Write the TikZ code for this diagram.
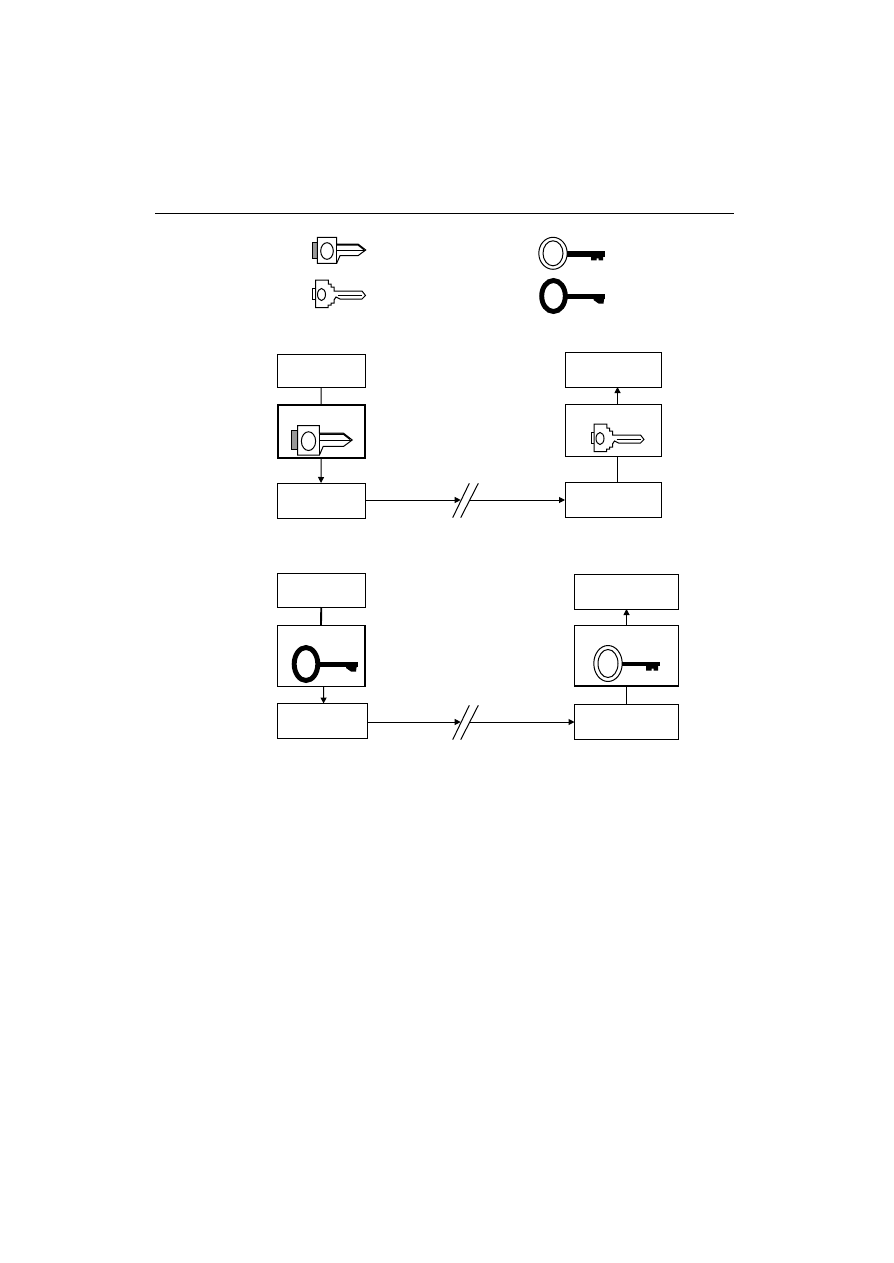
\documentclass[tikz,border=0pt]{standalone}
\usetikzlibrary{arrows.meta}
\newcommand{\pxbox}[6][]{% name x1 y1 x2 y2
  \node[flowbox,#1,minimum width={(#5-#3)*0.75pt},minimum height={(#6-#4)*0.75pt}] (#2) at ({(#3+#5)/2},{(#4+#6)/2}) {};}
\tikzset{
  x=0.75pt,y=-0.75pt,
  flowbox/.style={draw=black,fill=white,line width=0.75pt,inner sep=0pt,outer sep=0pt,rectangle},
  heavybox/.style={line width=1.5pt},
  conn/.style={draw=black,line width=0.75pt},
  heavyconn/.style={draw=black,line width=1.4pt},
  arr/.style={conn,-{Triangle[length=4.5pt,width=4.5pt]}},
  slash/.style={draw=black,line width=0.75pt},
  keyline/.style={draw=black,line width=0.75pt,line join=miter},
  pics/flatkey/.style={code={
    \draw[keyline,fill=black!40] (-15,-8) rectangle (-9.7,8);
    \draw[keyline,fill=white] (9.7,-6) -- (31,-6) -- (38.7,0) -- (31,5.7) -- (13,5.7) -- (9.7,13.3) -- (-9.7,13.3) -- (-9.7,-12.7) -- (9.7,-12.7) -- cycle;
    \draw[keyline] (9.7,-12.7) -- (9.7,13.3);
    \draw[keyline] (9.7,0) -- (38,0);
    \draw[keyline,line width=1.1pt] (9.7,-5.2) -- (31,-5.2) -- (37,-0.5);
    \draw[keyline] (0,1) ellipse [x radius=6.3,y radius=8.3];
  }},
  pics/stepkey/.style={code={
    \draw[keyline,fill=white] (-9.3,-5.5) -- (-12.5,-5.5) -- (-12.5,5) -- (-9.3,5);
    \draw[keyline,fill=white] (-9.3,-14) -- (3.3,-14) -- (3.3,-10) -- (6,-10) -- (6,-7) -- (9,-7) -- (9,-3) -- (11,-3) -- (37,-3) -- (40.5,1.5) -- (37,5) -- (15,5) -- (11,3) -- (9,6) -- (9,9) -- (6,9) -- (6,11) -- (3,11) -- (3,13.7) -- (-9.3,13.7) -- cycle;
    \draw[keyline] (13,1) -- (37,1);
    \draw[keyline] (-3.5,0.5) ellipse [x radius=4,y radius=6];
  }},
  pics/ringkey/.style n args={3}{code={
    \draw[keyline] (0,0) ellipse [x radius=14.2,y radius=#1];
    \draw[keyline] (0,0) ellipse [x radius=10,y radius=#2];
    \fill[black] (14,{0.5-#3}) rectangle (52,{0.5+#3});
    \fill[black] (38,0) -- (50,0) -- (50,7) -- (45.5,7) -- (45.5,5) -- (43.5,5) -- (43.5,7) -- (38,7) -- cycle;
  }},
  pics/boldkey/.style n args={2}{code={
    \draw[black,line width=3.7pt] (0,0) ellipse [x radius=11.8,y radius=#1];
    \fill[black] (13,{0.3-#2}) rectangle (51.5,{0.3+#2});
    \fill[black] (40,0) -- (51,0) -- (50,7.5) -- (45,7.5) -- (40,4) -- cycle;
  }},
}
\begin{document}
\begin{tikzpicture}
\useasboundingbox[fill=white] (0,0) rectangle (893,1263);
\coordinate (ruleL) at (155,213);
\coordinate (ruleR) at (733.5,213);
\draw[conn] (ruleL) -- (ruleR);
% legend keys
\pic at (327,250) {flatkey};
\pic at (325,294) {stepkey};
\pic at (553,253.3) {ringkey={16}{12.5}{2.8}};
\pic at (553.5,296) {boldkey={15.5}{2.8}};
% upper diagram
\pxbox{aTop}{277}{354}{365}{387.5}
\pxbox[heavybox]{aMid}{277.5}{405}{365}{457.5}
\pxbox{aBot}{277}{483}{365}{518}
\pxbox{bTop}{565}{352}{661.5}{387}
\pxbox{bMid}{565}{404}{661.5}{456.5}
\pxbox{bBot}{565}{482}{661.5}{517}
\pic[scale=1.13] at (308.5,440) {flatkey};
\pic at (603.5,438) {stepkey};
\draw[conn] (aTop.south) -- (aMid.north);
\draw[arr] (aMid.south) -- (aBot.north);
\draw[arr] ([xshift=3.2pt]bMid.north) -- ([xshift=3.2pt]bTop.south);
\draw[conn] ([xshift=3.2pt]bBot.north) -- ([xshift=3.2pt]bMid.south);
\coordinate (aBreakL) at (460.7,500);
\coordinate (aBreakR) at (470,500);
\coordinate (aS1a) at (452.7,517.7);
\coordinate (aS1b) at (469.3,483.3);
\coordinate (aS2a) at (460.7,517.7);
\coordinate (aS2b) at (478.3,483.3);
\draw[arr] (aBot.east |- aBreakL) -- (aBreakL);
\draw[arr] (aBreakR) -- (bBot.west |- aBreakR);
\draw[slash] (aS1a) -- (aS1b);
\draw[slash] (aS2a) -- (aS2b);
% lower diagram
\pxbox{cTop}{277}{573}{365.5}{607}
\pxbox{cMid}{277}{625.5}{365}{686.5}
\pxbox{cBot}{277}{703.5}{367.5}{738.5}
\pxbox{dTop}{574.5}{574.5}{678.5}{609}
\pxbox{dMid}{574.5}{625.5}{678.5}{686}
\pxbox{dBot}{574.5}{704}{678.5}{739}
\draw[black,line width=1.2pt] (cMid.north east) -- (cMid.south east);
\draw[black,line width=1.5pt] (dMid.south west) -- (dMid.south east);
\pic at (306,664) {boldkey={16.5}{2.2}};
\pic at (608,663.5) {ringkey={18}{14}{2}};
\draw[heavyconn] (cTop.south) -- (cMid.north);
\draw[arr] ([xshift=1.9pt]cMid.south) -- ([xshift=1pt]cBot.north);
\draw[arr] (dMid.north) -- (dTop.south);
\draw[conn] (dBot.north) -- (dMid.south);
\coordinate (cBreakL) at (460.7,722);
\coordinate (cBreakR) at (470,722);
\coordinate (cS1a) at (452.7,739.7);
\coordinate (cS1b) at (469.3,705.3);
\coordinate (cS2a) at (460.7,739.7);
\coordinate (cS2b) at (478.3,705.3);
\draw[arr] (cBot.east |- cBreakL) -- (cBreakL);
\draw[arr] (cBreakR) -- (dBot.west |- cBreakR);
\draw[slash] (cS1a) -- (cS1b);
\draw[slash] (cS2a) -- (cS2b);
\end{tikzpicture}
\end{document}
